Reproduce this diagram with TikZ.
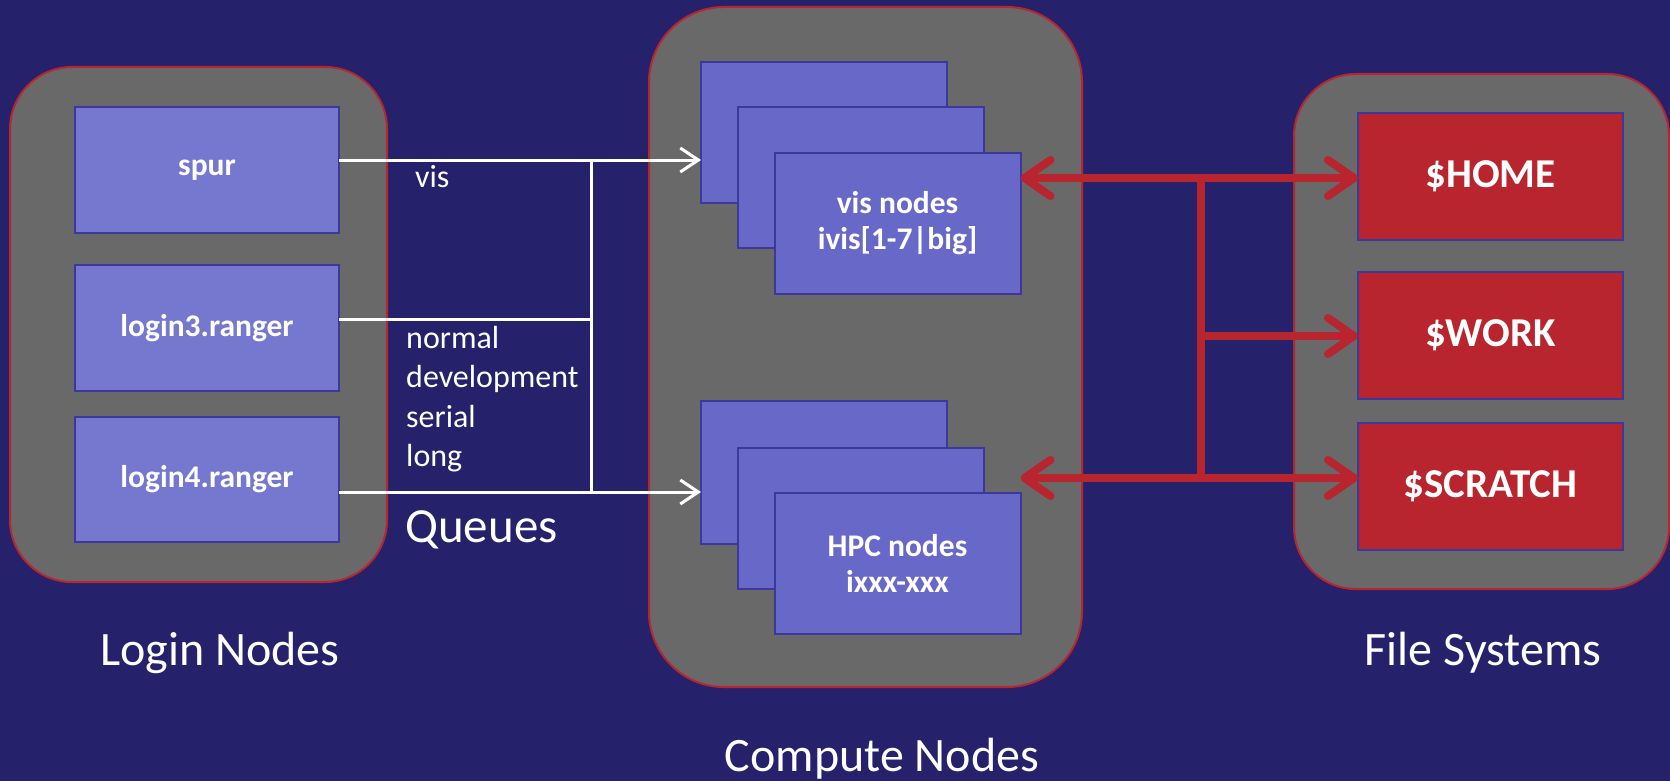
\documentclass[tikz,border=0pt]{standalone}
\usepackage{fontspec}
\setmainfont{Carlito}
\usetikzlibrary{arrows.meta}
\definecolor{bg}{HTML}{25226B}
\definecolor{cgray}{HTML}{696969}
\definecolor{cred}{HTML}{B8252F}
\definecolor{lblue}{HTML}{7677CE}
\definecolor{mblue}{HTML}{6868C9}
\definecolor{bblue}{HTML}{3B3A9C}
\begin{document}
\begin{tikzpicture}[x=1pt,y=-1pt,
  container/.style={draw=cred, line width=2pt, fill=cgray, rounded corners=62pt, inner sep=0pt, outer sep=0pt},
  box/.style={draw=bblue, line width=2pt, inner sep=0pt, outer sep=0pt, text=white, align=center, font=\bfseries\fontsize{31.5}{36}\selectfont},
  loginbox/.style={box, fill=lblue, minimum width=264pt, minimum height=126pt},
  cbox/.style={box, fill=mblue, minimum width=246pt, minimum height=141pt},
  fsbox/.style={box, fill=cred, minimum width=265pt, minimum height=127pt, font=\bfseries\fontsize{41}{46}\selectfont},
  wline/.style={draw=white, line width=3pt},
  wtip/.style={-{Straight Barb[length=18pt,width=24pt]}},
  rline/.style={draw=cred, line width=8pt},
  rtip/.style={-{Straight Barb[length=26pt,width=36pt,round]}},
  rtips/.style={{Straight Barb[length=26pt,width=36pt,round]}-{Straight Barb[length=26pt,width=36pt,round]}},
  lbl/.style={text=white, inner sep=0pt, font=\fontsize{32}{39.5}\selectfont},
  title/.style={text=white, inner sep=0pt, font=\fontsize{48}{54}\selectfont}
]
\fill[bg] (0,0) rectangle (1670,781);
\useasboundingbox (0,0) rectangle (1670,781);

% containers
\node[container, minimum width=377pt, minimum height=515pt] (loginc) at (198.5,324.5) {};
\node[container, minimum width=433pt, minimum height=680pt, rounded corners=75pt] (computec) at (865.5,347) {};
\node[container, minimum width=375pt, minimum height=515pt] (fsc) at (1481.5,331.5) {};

% white queue lines
\coordinate (wt) at (591,160);
\coordinate (wm) at (591,319);
\coordinate (wb) at (591,492);

% login nodes
\node[loginbox] (spur) at (207,170) {spur};
\node[loginbox] (login3) at (207,328) {login3.ranger};
\node[loginbox, minimum height=125pt] (login4) at (207,479.5) {login4.ranger};

% compute stacks
\node[cbox] (vis1) at (824,132.5) {};
\node[cbox] (vis2) at (861,177.5) {};
\node[cbox] (vis3) at (897.5,223.5) {vis nodes\\ivis[1-7|big]};
\node[cbox, minimum height=143pt] (hpc1) at (824,472.5) {};
\node[cbox] (hpc2) at (861,518) {};
\node[cbox] (hpc3) at (897.5,563.5) {HPC nodes\\ixxx-xxx};

% file systems
\node[fsbox] (home) at (1490.5,176.5) {\$HOME};
\node[fsbox] (work) at (1490.5,335) {\$WORK};
\node[fsbox] (scratch) at (1490.5,486) {\$SCRATCH};

% white connectors
\draw[wline, wtip] (spur.east |- wt) -- (vis1.west |- wt);
\draw[wline] (wt) -- (wb);
\draw[wline] (login3.east |- wm) -- (wm);
\draw[wline, wtip] (login4.east |- wb) -- (hpc1.west |- wb);

% red connectors
\coordinate (rt) at (1201,178);
\coordinate (rm) at (1201,336);
\coordinate (rb) at (1201,478);
\draw[rline, rtips] (vis3.east |- rt) -- (home.west |- rt);
\draw[rline] (rt) -- (rb);
\draw[rline, rtip] (rm) -- (work.west |- rm);
\draw[rline, rtips] (hpc3.east |- rb) -- (scratch.west |- rb);

% labels
\node[lbl, anchor=west] (vislbl) at (415,177) {vis};
\node[lbl, anchor=north west, align=left] (qlist) at (406,326) {normal\\development\\serial\\long};
\node[text=white, inner sep=0pt, anchor=base west, font=\fontsize{49}{54}\selectfont] (queues) at (405,542) {Queues};
\node[title, anchor=base] (logint) at (220,665) {Login Nodes};
\node[title, anchor=base] (computet) at (882,771) {Compute Nodes};
\node[title, anchor=base] (fst) at (1483,665) {File Systems};
\end{tikzpicture}
\end{document}
